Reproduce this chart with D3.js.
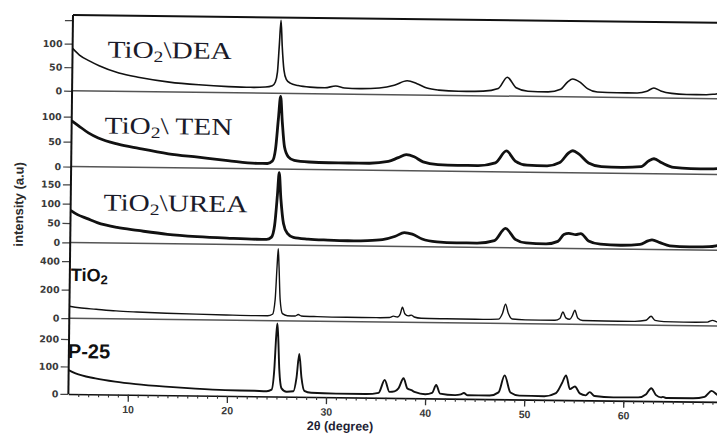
<!DOCTYPE html>
<html>
<head>
<meta charset="utf-8">
<script src="https://cdn.jsdelivr.net/npm/d3@7"></script>
<style>
    body { margin: 0; background: #fff; }
    svg { display: block; }
</style>
</head>
<body>
<div id="xrd"></div>
<script>
(function () {

    // stacked XRD patterns, one panel per sample, shared 2theta axis

    var width = 717, height = 434;

    // panel labels (serif ones are the modified samples)
    var panelLabels = [['TiO', '2', '\\DEA'], ['TiO', '2', '\\ TEN'], ['TiO', '2', '\\UREA'], ['TiO', '2', ''], ['P-25', '', '']];

    // top of each intensity axis (a.u) and its ticks
    var yMax = [161, 152, 196, 532, 276];
    var yTicks = [[0, 50, 100, 150], [0, 50, 100], [0, 50, 100, 150], [0, 200, 400], [0, 100, 200]];
    var yTickUnlabelled = [150, null, null, null, null];

    var xDomain = [4, 70];
    var xTicksMajor = [10, 20, 30, 40, 50, 60];

    // [2theta, intensity]
    var dea = [[4.0, 90], [4.7, 76], [5.7, 64], [6.7, 54], [8.7, 39], [10.8, 30], [13.8, 21], [16.8, 16], [19.8, 13], [22.0, 12],
        [23.5, 13], [24.2, 16], [24.5, 24], [24.7, 45], [24.85, 100], [25.0, 155], [25.15, 100], [25.35, 50], [25.6, 30], [26.0, 22],
        [26.8, 17], [28.0, 14], [29.5, 13], [30.6, 17], [31.5, 13], [33.0, 12], [35.0, 14], [36.5, 20], [37.8, 30], [38.8, 24],
        [39.8, 15], [41.0, 11], [43.0, 9], [45.5, 10], [47.0, 16], [47.9, 40], [48.8, 18], [50.0, 11], [52.0, 10], [53.3, 16],
        [54.0, 32], [54.5, 38], [55.2, 32], [56.0, 18], [57.0, 11], [59.0, 10], [61.0, 10], [62.0, 14], [62.7, 21], [63.4, 15],
        [64.5, 10], [66.0, 8], [68.0, 8], [69.0, 10], [70.0, 12]];

    var ten = [[4.0, 92], [4.7, 82], [5.7, 68], [6.7, 58], [8.7, 46], [10.8, 38], [13.8, 28], [16.8, 22], [19.8, 16], [22.8, 11],
        [23.8, 11], [24.3, 16], [24.6, 40], [24.85, 100], [25.05, 146], [25.25, 95], [25.5, 45], [25.9, 25], [26.5, 18], [28.0, 15],
        [30.0, 14], [32.0, 14], [34.0, 14], [36.0, 18], [37.0, 26], [37.8, 32], [38.6, 28], [39.5, 18], [41.0, 13], [43.0, 12],
        [45.0, 12], [46.8, 18], [47.9, 42], [48.8, 22], [50.0, 14], [52.0, 13], [53.3, 20], [54.2, 40], [54.6, 44], [55.2, 38],
        [56.2, 20], [57.5, 13], [59.5, 12], [61.5, 14], [62.3, 26], [62.8, 30], [63.6, 22], [64.8, 13], [66.5, 11], [68.5, 11],
        [70.0, 14]];

    var urea = [[4.0, 83], [4.7, 72], [5.7, 62], [6.7, 52], [8.7, 40], [10.8, 33], [13.8, 24], [16.8, 19], [19.8, 16], [22.8, 14],
        [23.8, 14], [24.3, 20], [24.6, 50], [24.85, 130], [25.0, 187], [25.2, 120], [25.5, 55], [25.9, 30], [26.5, 20], [28.0, 16],
        [30.0, 14], [32.0, 13], [34.0, 14], [35.5, 17], [36.8, 26], [37.7, 36], [38.5, 32], [39.5, 20], [41.0, 13], [43.0, 11],
        [45.0, 11], [46.8, 18], [47.9, 50], [48.9, 22], [50.0, 13], [52.0, 11], [53.2, 18], [53.8, 36], [54.3, 39], [55.0, 36],
        [55.5, 39], [56.3, 20], [57.5, 12], [59.5, 10], [61.5, 13], [62.3, 22], [62.7, 25], [63.5, 18], [64.5, 10], [66.5, 8],
        [68.5, 9], [69.5, 13], [70.0, 15]];

    var tio2 = [[4.0, 84], [5.0, 74], [6.7, 65], [8.7, 55], [10.8, 49], [13.8, 43], [16.8, 39], [19.8, 36], [22.8, 34], [24.0, 34],
        [24.5, 45], [24.75, 150], [24.9, 380], [25.0, 505], [25.1, 380], [25.25, 150], [25.5, 50], [26.0, 36], [26.8, 35], [27.1, 45],
        [27.4, 35], [29.0, 32], [32.0, 30], [35.0, 30], [36.3, 32], [36.7, 42], [37.1, 36], [37.4, 60], [37.6, 105], [37.85, 60],
        [38.2, 45], [38.5, 51], [38.8, 38], [39.5, 30], [42.0, 28], [45.0, 27], [47.3, 30], [47.7, 70], [48.0, 135], [48.3, 70],
        [48.7, 32], [50.0, 27], [53.0, 27], [53.5, 40], [53.8, 86], [54.1, 45], [54.5, 35], [54.75, 60], [55.0, 99], [55.3, 45],
        [55.8, 28], [58.0, 26], [61.0, 26], [62.2, 35], [62.7, 63], [63.1, 35], [64.0, 27], [66.0, 25], [68.4, 27], [68.9, 40],
        [69.4, 28], [70.0, 26]];

    var p25 = [[4.0, 87], [4.7, 75], [6.7, 58], [8.7, 47], [10.8, 39], [13.8, 31], [16.8, 25], [19.8, 21], [22.8, 20], [24.0, 19],
        [24.5, 25], [24.75, 100], [24.9, 220], [25.0, 266], [25.1, 220], [25.25, 100], [25.5, 30], [26.0, 18], [26.7, 20], [27.0, 70],
        [27.25, 156], [27.5, 70], [27.8, 22], [28.5, 15], [31.0, 13], [34.0, 13], [35.3, 18], [35.9, 65], [36.4, 22], [36.9, 24],
        [37.3, 35], [37.8, 72], [38.2, 35], [38.6, 29], [39.0, 22], [40.0, 15], [40.7, 20], [41.1, 49], [41.5, 18], [43.0, 13],
        [43.6, 16], [43.9, 21], [44.3, 13], [46.5, 13], [47.4, 25], [48.0, 87], [48.6, 25], [49.5, 14], [52.0, 13], [53.2, 25],
        [53.8, 62], [54.2, 90], [54.6, 40], [55.1, 50], [55.6, 25], [56.2, 18], [56.6, 30], [57.1, 16], [59.0, 12], [61.5, 13],
        [62.3, 25], [62.8, 47], [63.3, 22], [63.8, 14], [64.0, 16], [64.3, 12], [67.0, 12], [68.2, 18], [68.9, 40], [69.5, 25],
        [70.0, 15]];

    var series = [dea, ten, urea, tio2, p25];
    var lineWidths = [1.6, 2.8, 2.8, 1.4, 1.9];


    var left = 73, top = 15, panelH = 75.8;
    var bottom = top + panelH * series.length;

    var svg = d3.select('#xrd')
        .append('svg')
        .attr('width', width)
        .attr('height', height);

    // the scan is slightly tilted, so the whole figure is too
    var g = svg.append('g')
        .attr('transform', 'rotate(0.7,' + left + ',' + top + ')');

    var x = d3.scaleLinear()
        .domain(xDomain)
        .range([left, left + 9.91 * (xDomain[1] - xDomain[0])]);


    series.forEach(function (data, i) {

        var y0 = top + panelH * i;

        var y = d3.scaleLinear()
            .domain([0, yMax[i]])
            .range([y0 + panelH, y0]);

        // separator / top frame
        g.append('line')
            .attr('x1', left)
            .attr('x2', x.range()[1])
            .attr('y1', y0)
            .attr('y2', y0)
            .attr('stroke', i == 0 ? '#111' : '#555')
            .attr('stroke-width', i == 0 ? 2 : 1.5);

        var line = d3.line()
            .x(d => { return x(d[0]) })
            .y(d => { return y(d[1]) })
            .curve(d3.curveMonotoneX);

        g.append('path')
            .datum(data)
            .attr('fill', 'none')
            .attr('stroke', '#111')
            .attr('stroke-width', lineWidths[i])
            .attr('stroke-linejoin', 'round')
            .attr('d', line);

        var yAxis = g.append('g')
            .attr('class', 'y axis')
            .attr('transform', 'translate(' + left + ',0)')
            .call(d3.axisLeft(y)
                .tickValues(yTicks[i])
                .tickSize(8)
                .tickSizeOuter(0)
                .tickPadding(2)
                .tickFormat(d => { return d === yTickUnlabelled[i] ? '' : d }));

        yAxis.select('.domain').remove();
        yAxis.selectAll('line').attr('stroke', '#444').attr('stroke-width', 1.2);
        yAxis.selectAll('text')
            .attr('fill', '#3a3a3a')
            .style('font-family', '"DejaVu Sans", sans-serif')
            .style('font-weight', 'bold')
            .style('font-size', '9.5px');
    });


    // panel labels
    panelLabels.forEach(function (lab, i) {
        var serif = i < 3;
        var pos = [[108, 57], [106, 133], [106, 210], [74, 281], [72, 358]][i];

        var t = g.append('text')
            .attr('transform', 'translate(' + pos[0] + ',' + pos[1] + ')' + (serif ? ' scale(1.22,1)' : ''))
            .attr('fill', serif ? '#1b1b2a' : '#111')
            .style('font-family', serif ? '"Liberation Serif", "Times New Roman", serif' : '"Liberation Sans", Arial, sans-serif')
            .style('font-weight', serif ? 'normal' : 'bold')
            .style('font-size', serif ? '24px' : (i == 3 ? '18px' : '20px'));

        t.append('tspan').text(lab[0]);
        if (lab[1]) {
            t.append('tspan')
                .attr('dy', serif ? 4 : 3)
                .style('font-size', serif ? '16px' : '13px')
                .text(lab[1]);
        }
        if (lab[2]) {
            t.append('tspan').attr('dy', -4).text(lab[2]);
        }
    });


    // left axis line
    g.append('line')
        .attr('x1', left).attr('x2', left)
        .attr('y1', top).attr('y2', bottom)
        .attr('stroke', '#111')
        .attr('stroke-width', 2);


    // bottom axis: minor ticks every degree, labelled every ten
    var minor = g.append('g')
        .attr('transform', 'translate(0,' + bottom + ')')
        .call(d3.axisBottom(x)
            .tickValues(d3.range(5, 70))
            .tickSize(3)
            .tickSizeOuter(0)
            .tickFormat(''));

    minor.select('.domain').attr('stroke', '#111').attr('stroke-width', 1.6);
    minor.selectAll('line').attr('stroke', '#333').attr('stroke-width', 1.1);

    var major = g.append('g')
        .attr('transform', 'translate(0,' + bottom + ')')
        .call(d3.axisBottom(x)
            .tickValues(xTicksMajor)
            .tickSize(7)
            .tickSizeOuter(0)
            .tickPadding(4));

    major.select('.domain').remove();
    major.selectAll('line').attr('stroke', '#333').attr('stroke-width', 1.3);
    major.selectAll('text')
        .attr('fill', '#3a3a3a')
        .style('font-family', '"Liberation Sans", Arial, sans-serif')
        .style('font-weight', 'bold')
        .style('font-size', '10.5px');


    // axis titles
    g.append('text')
        .attr('x', 345)
        .attr('y', 427)
        .attr('text-anchor', 'middle')
        .attr('fill', '#1f1f35')
        .style('font-family', '"Liberation Sans", Arial, sans-serif')
        .style('font-weight', 'bold')
        .style('font-size', '12.5px')
        .text('2θ (degree)');

    g.append('text')
        .attr('transform', 'translate(21,205) rotate(-90)')
        .attr('text-anchor', 'middle')
        .attr('dy', '0.35em')
        .attr('fill', '#2b2b2b')
        .style('font-family', '"Liberation Sans", Arial, sans-serif')
        .style('font-weight', 'bold')
        .style('font-size', '13px')
        .text('intensity (a.u)');

})()
</script>
</body>
</html>
